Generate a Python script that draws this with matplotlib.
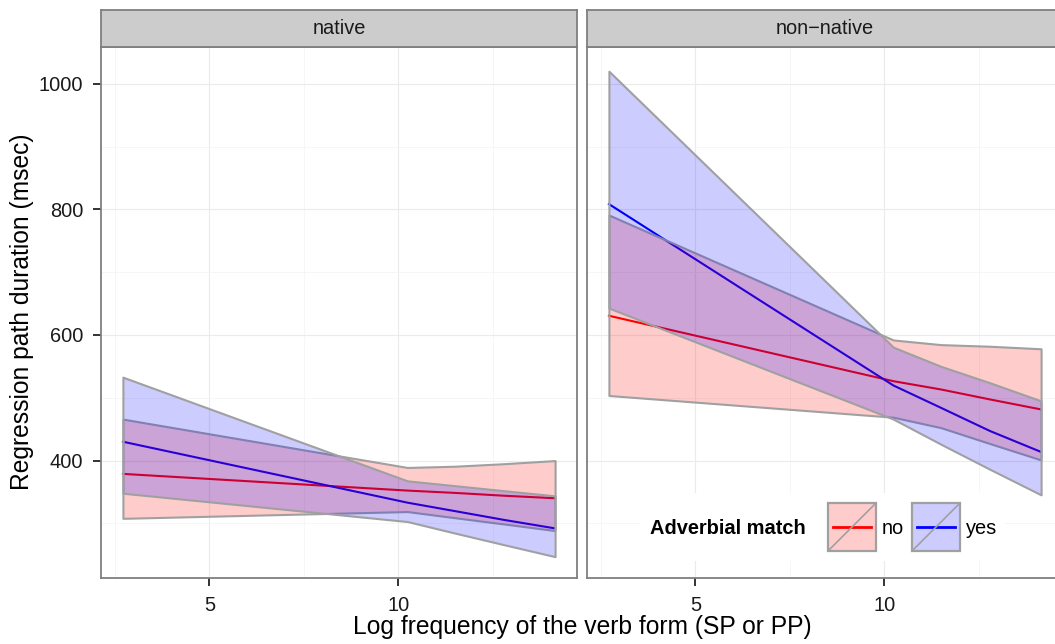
import matplotlib
matplotlib.use("Agg")
import matplotlib.pyplot as plt
from matplotlib.patches import Rectangle
from matplotlib.lines import Line2D

plt.rcParams['font.family'] = ['Liberation Sans', 'DejaVu Sans']

# ---------------- data ----------------
freq = [2.71, 10.24, 11.5, 12.8, 14.15]
groups = ["native", "non\u2212native"]
match_levels = ["no", "yes"]

native_no_fit = [378.8, 352.2, 348.5, 344.0, 340.0]
native_no_lo = [308.0, 318.8, 309.0, 299.0, 288.5]
native_no_hi = [466.0, 389.0, 391.0, 395.0, 400.0]
native_yes_fit = [430.0, 333.0, 319.5, 305.5, 292.0]
native_yes_lo = [348.0, 302.9, 284.5, 266.0, 247.0]
native_yes_hi = [532.8, 367.7, 360.0, 352.0, 343.8]

nonnative_no_fit = [630.6, 526.4, 513.2, 497.3, 481.4]
nonnative_no_lo = [503.6, 469.0, 452.4, 427.0, 401.0]
nonnative_no_hi = [791.0, 592.0, 584.6, 582.0, 578.0]
nonnative_yes_fit = [808.4, 519.6, 484.0, 447.0, 413.7]
nonnative_yes_lo = [642.8, 466.0, 426.0, 386.0, 345.4]
nonnative_yes_hi = [1020.0, 580.5, 550.0, 523.8, 495.0]

y_ticks = [400, 600, 800, 1000]
y_minor = [300, 500, 700, 900]
x_ticks = [5, 10]
x_minor = [2.5, 7.5, 12.5]

# ---------------- styling ----------------
W, H = 1055, 644
fig = plt.figure(figsize=(W / 100, H / 100), dpi=100)

def box(x0, y0, x1, y1):
    return [x0 / W, 1 - y1 / H, (x1 - x0) / W, (y1 - y0) / H]

def fp(x, y):
    return (x / W, 1 - y / H)

line_cols = {"no": "#FF0000", "yes": "#0000FF"}
fill_cols = {"no": (1, 0, 0, 0.2), "yes": (0, 0, 1, 0.2)}
edge_col = "#A0A0A0"
spine_col = "#7F7F7F"
SMALL = 14.4
BIG = 17.7

panel_data = {
    "native": {
        "no": (native_no_fit, native_no_lo, native_no_hi),
        "yes": (native_yes_fit, native_yes_lo, native_yes_hi),
    },
    "non\u2212native": {
        "no": (nonnative_no_fit, nonnative_no_lo, nonnative_no_hi),
        "yes": (nonnative_yes_fit, nonnative_yes_lo, nonnative_yes_hi),
    },
}

panel_x = [(101, 577), (587, 1063)]
top, bottom = 46.7, 578
strip_top = 10.3

axes = []
for i, g in enumerate(groups):
    x0, x1 = panel_x[i]
    ax = fig.add_axes(box(x0, top, x1, bottom))
    axes.append(ax)
    ax.set_xlim(2.13, 14.73)
    ax.set_ylim(213, 1059)
    ax.set_facecolor("white")
    ax.set_axisbelow(True)
    ax.set_xticks(x_ticks)
    ax.set_xticks(x_minor, minor=True)
    ax.set_yticks(y_ticks)
    ax.set_yticks(y_minor, minor=True)
    ax.grid(which="major", color="#EBEBEB", lw=0.8)
    ax.grid(which="minor", color="#F5F5F5", lw=0.6)
    ax.tick_params(which="minor", length=0)
    ax.tick_params(which="major", direction="out", length=5.8, width=1.4,
                   color="#333333", labelsize=SMALL, labelcolor="#1A1A1A", pad=7)
    for s in ax.spines.values():
        s.set_color(spine_col)
        s.set_linewidth(1.3)
    if i > 0:
        ax.tick_params(axis="y", left=False, labelleft=False)

    d = panel_data[g]
    for m in match_levels:
        fit, lo, hi = d[m]
        ax.plot(freq, fit, color=line_cols[m], lw=1.5, zorder=2)
    for m in match_levels:
        fit, lo, hi = d[m]
        ax.fill_between(freq, lo, hi, facecolor=fill_cols[m],
                        edgecolor=edge_col, lw=1.5, zorder=3)

    # strip
    sax = fig.add_axes(box(x0, strip_top, x1, top))
    sax.set_facecolor("#CCCCCC")
    sax.set_xticks([])
    sax.set_yticks([])
    for s in sax.spines.values():
        s.set_color(spine_col)
        s.set_linewidth(1.3)
    sax.text(0.5, 0.5, g, ha="center", va="center", fontsize=SMALL,
             color="#1A1A1A", transform=sax.transAxes)

# axis titles
fig.text(*fp(582, 627), "Log frequency of the verb form (SP or PP)",
         ha="center", va="center", fontsize=BIG, color="black")
fig.text(*fp(22, 312), "Regression path duration (msec)", rotation=90,
         ha="center", va="center", fontsize=BIG, color="black")

# legend (inside right panel)
ax2 = axes[1]
tf = fig.transFigure

def frect(x0, y0, x1, y1, **kw):
    r = Rectangle(fp(x0, y1), (x1 - x0) / W, (y1 - y0) / H, transform=tf,
                  clip_on=False, **kw)
    ax2.add_artist(r)

def fline(xa, ya, xb, yb, **kw):
    (ax_, ay_), (bx_, by_) = fp(xa, ya), fp(xb, yb)
    l = Line2D([ax_, bx_], [ay_, by_], transform=tf, clip_on=False, **kw)
    ax2.add_artist(l)

frect(640, 493, 1005, 561, facecolor="white", edgecolor="none", zorder=10)
fig.text(*fp(650, 528), "Adverbial match", ha="left", va="center",
         fontsize=SMALL, fontweight="bold", color="black", zorder=11)
key_x = {"no": 828, "yes": 912}
lab_x = {"no": 882, "yes": 966}
for m in match_levels:
    kx = key_x[m]
    frect(kx, 503, kx + 48, 551, facecolor="white", edgecolor="none", zorder=11)
    fline(kx + 5, 527, kx + 43, 527, color=line_cols[m], lw=2.0, zorder=12)
    frect(kx, 503, kx + 48, 551, facecolor=fill_cols[m], edgecolor=edge_col,
          lw=1.6, zorder=13)
    fline(kx, 551, kx + 48, 503, color=edge_col, lw=1.2, zorder=14)
    fig.text(*fp(lab_x[m], 528), m, ha="left", va="center", fontsize=SMALL,
             color="black", zorder=15)

fig.savefig("out.png", dpi=100)
